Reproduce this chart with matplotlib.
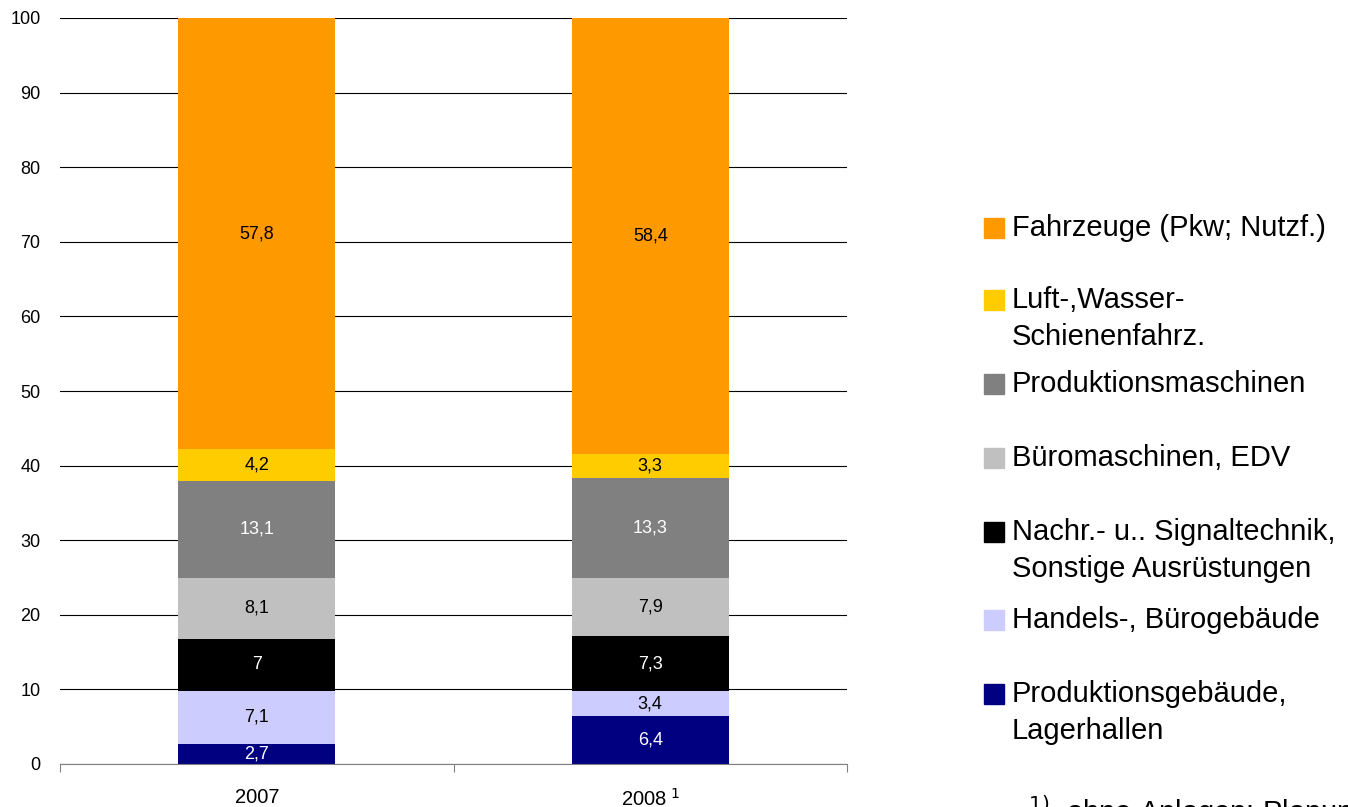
import numpy as np
import matplotlib
matplotlib.use('Agg')
import matplotlib.pyplot as plt
from matplotlib.patches import Rectangle

plt.rcParams['font.family'] = ['Liberation Sans', 'DejaVu Sans']

years = ['2007', '2008']
categories = [
    'Produktionsgebäude,\nLagerhallen',
    'Handels-, Bürogebäude',
    'Nachr.- u.. Signaltechnik,\nSonstige Ausrüstungen',
    'Büromaschinen, EDV',
    'Produktionsmaschinen',
    'Luft-,Wasser-\nSchienenfahrz.',
    'Fahrzeuge (Pkw; Nutzf.)',
]
values_2007 = [2.7, 7.1, 7.0, 8.1, 13.1, 4.2, 57.8]
values_2008 = [6.4, 3.4, 7.3, 7.9, 13.3, 3.3, 58.4]
colors = ['#000080', '#CCCCFF', '#000000', '#C0C0C0', '#808080', '#FFCC00', '#FF9900']
label_colors = ['white', 'black', 'white', 'black', 'white', 'black', 'black']

W, H = 1348, 807
fig = plt.figure(figsize=(W / 100, H / 100), dpi=100)
ax = fig.add_axes([60 / W, 1 - 764 / H, (847 - 60) / W, (764 - 18) / H])

x = np.arange(len(years))
data = np.array([values_2007, values_2008]).T
bottom = np.zeros(len(years))
for vals, c, lc in zip(data, colors, label_colors):
    ax.bar(x, vals, width=0.4, bottom=bottom, color=c, zorder=2)
    for xi, b, v in zip(x, bottom, vals):
        txt = ('%g' % v).replace('.', ',')
        ax.text(xi, b + v / 2, txt, ha='center', va='center',
                color=lc, fontsize=13, zorder=3)
    bottom += vals

ax.set_xlim(-0.5, 1.5)
ax.set_ylim(0, 100)
ax.set_yticks(np.arange(0, 101, 10))
ax.yaxis.grid(True, color='black', linewidth=0.8, zorder=0)
ax.set_axisbelow(True)
ax.tick_params(axis='y', length=0, labelsize=13, pad=14)
for s in ['top', 'right', 'left']:
    ax.spines[s].set_visible(False)
ax.spines['bottom'].set_color('#808080')
ax.set_xticks([-0.5, 0.5, 1.5])
ax.set_xticklabels([])
ax.tick_params(axis='x', length=6, color='#808080')
ax.set_xticks(x, minor=True)
ax.set_xticklabels(['2007', '2008$^{\\ 1}$'], minor=True)
ax.tick_params(axis='x', which='minor', length=0, labelsize=14.5, pad=17)

# legend drawn by hand to keep the uneven Excel spacing
leg_rows = [228, 300, 384, 458, 532, 620, 694]
for c, lab, yc in zip(colors[::-1], categories[::-1], leg_rows):
    fig.patches.append(Rectangle((984 / W, 1 - (yc + 10) / H), 20 / W, 20 / H,
                                 transform=fig.transFigure, color=c))
    fig.text(1012 / W, 1 - (yc - 14) / H, lab, ha='left', va='top',
             fontsize=21, linespacing=1.4)

fig.text(1028 / W, 1 - 793 / H, '$^{1)}$  ohne Anlagen: Planungsdaten', ha='left', va='top',
         fontsize=21)

fig.savefig('out.png', dpi=100)
